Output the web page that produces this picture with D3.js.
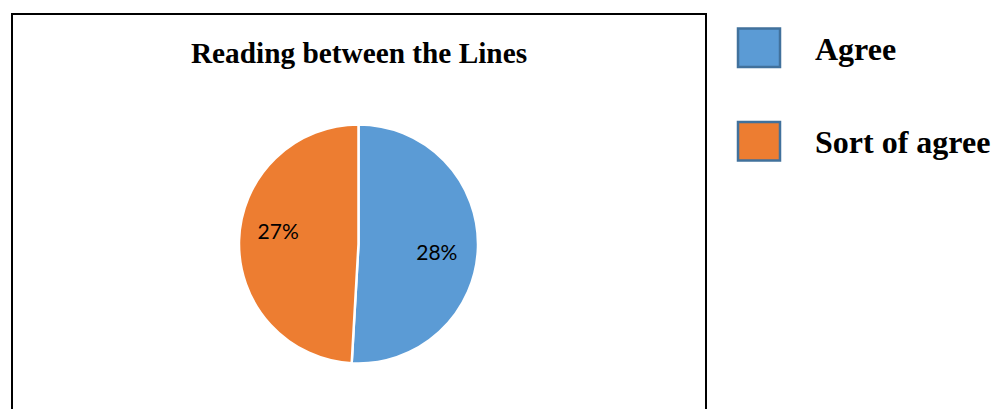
<!DOCTYPE html>
<html>
<head>
<meta charset="utf-8">
<script src="https://cdn.jsdelivr.net/npm/d3@7"></script>
<style>
  html, body { margin: 0; padding: 0; background: #fff; }
</style>
</head>
<body>
<div id="chart"></div>
<script>
const categories = ['Agree', 'Sort of agree']
const values = [28, 27]
const labels = ['28%', '27%']
const colors = ['#5B9BD5', '#ED7D31']

function draw() {
    const width = 994
    const height = 409

    const svg = d3.select('#chart')
        .append('svg')
        .attr('width', width)
        .attr('height', height)

    // chart frame, runs off the bottom of the picture
    svg.append('rect')
        .attr('x', 12)
        .attr('y', 14)
        .attr('width', 694)
        .attr('height', 420)
        .attr('fill', 'none')
        .attr('stroke', '#000')
        .attr('stroke-width', 2)

    svg.append('text')
        .attr('x', 359)
        .attr('y', 63)
        .attr('text-anchor', 'middle')
        .style('font-family', '"Liberation Serif", "Times New Roman", serif')
        .style('font-weight', 'bold')
        .style('font-size', '29.3px')
        .text('Reading between the Lines')

    const radius = 119.5
    const ctr = svg.append('g')
        .attr('transform', 'translate(358.5, 244)')

    const pie = d3.pie().sort(null).value(d => d)
    const arcs = pie(values)

    const arc = d3.arc().innerRadius(0).outerRadius(radius)

    ctr.selectAll('path')
        .data(arcs)
        .join('path')
        .attr('d', arc)
        .attr('fill', (d, i) => colors[i])
        .attr('stroke', '#fff')
        .attr('stroke-width', 2.5)
        .attr('stroke-linejoin', 'round')

    // labels sit a little clockwise of the slice middle
    const labelArc = d3.arc().innerRadius(80).outerRadius(80)
    const rot = 0.1
    ctr.selectAll('text')
        .data(arcs)
        .join('text')
        .attr('transform', d => {
            const c = labelArc.centroid({ startAngle: d.startAngle + rot, endAngle: d.endAngle + rot })
            return `translate(${c[0] - 1}, ${c[1] - 2})`
        })
        .attr('dy', '0.35em')
        .attr('text-anchor', 'middle')
        .style('font-family', 'Lato, "Open Sans", sans-serif')
        .style('font-size', '21px')
        .attr('fill', '#000')
        .text((d, i) => labels[i])

    // legend
    const legendY = d3.scalePoint()
        .domain(categories)
        .range([47.5, 141])

    const legend = svg.append('g')
        .selectAll('g')
        .data(categories)
        .join('g')
        .attr('transform', d => `translate(0, ${legendY(d)})`)

    legend.append('rect')
        .attr('x', 738)
        .attr('y', -19)
        .attr('width', 42)
        .attr('height', 38.5)
        .attr('fill', (d, i) => colors[i])
        .attr('stroke', '#41719C')
        .attr('stroke-width', 2.5)

    legend.append('text')
        .attr('x', 815)
        .attr('y', 12)
        .style('font-family', '"Liberation Serif", "Times New Roman", serif')
        .style('font-weight', 'bold')
        .style('font-size', '32px')
        .text(d => d)
}

draw()
</script>
</body>
</html>
